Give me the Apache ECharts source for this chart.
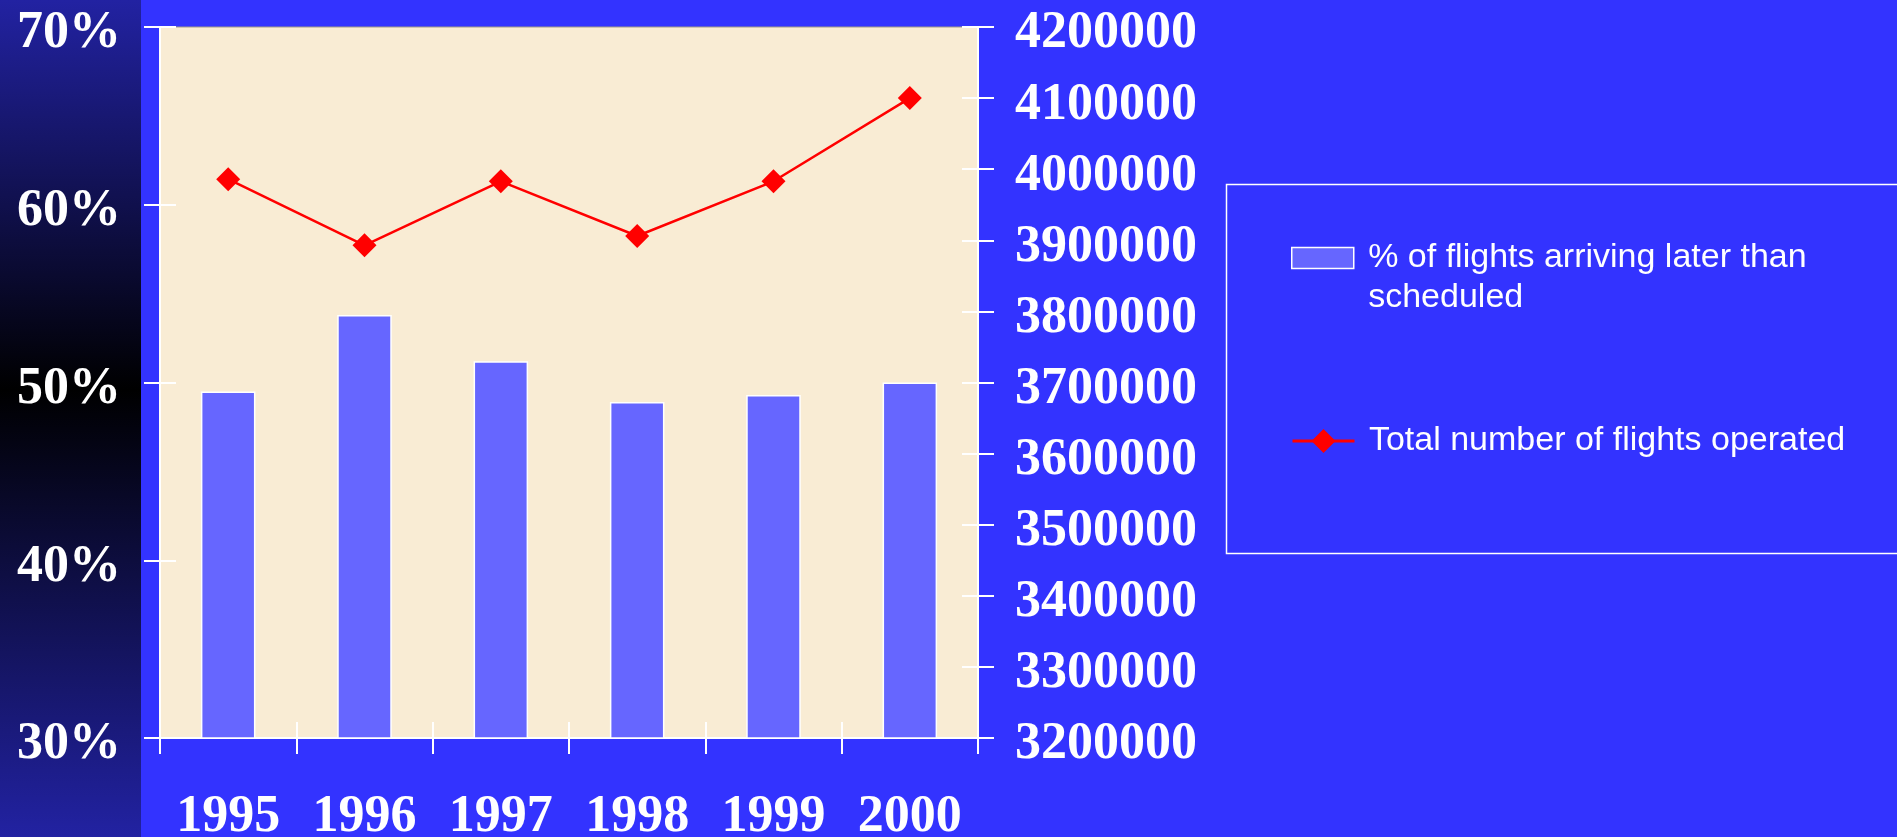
<!DOCTYPE html>
<html>
<head>
<meta charset="utf-8">
<script src="https://cdn.jsdelivr.net/npm/echarts@6/dist/echarts.min.js"></script>
<style>
html,body{margin:0;padding:0;background:#3333ff;}
#chart{width:1897px;height:837px;}
</style>
</head>
<body>
<div id="chart"></div>
<script>
const years = ['1995', '1996', '1997', '1998', '1999', '2000'];
const latePct = [49.5, 53.8, 51.2, 48.9, 49.3, 50.0];
const flightsOperated = [3986000, 3893000, 3983000, 3906000, 3983000, 4100000];
const barName = '% of flights arriving later than scheduled';
const lineName = 'Total number of flights operated';
const pctAxis = { min: 30, max: 70, interval: 10 };
const flightAxis = { min: 3200000, max: 4200000, interval: 100000 };

const chart = echarts.init(document.getElementById('chart'));
const axisFont = { color: '#ffffff', fontFamily: "'Liberation Serif', 'Times New Roman', serif", fontWeight: 'bold', fontSize: 52 };
const legendFont = { color: '#ffffff', fontFamily: "'Liberation Sans', Arial, sans-serif", fontSize: 34, lineHeight: 40 };
const white = { color: '#ffffff', width: 2 };

chart.setOption({
  backgroundColor: '#3333ff',
  animation: false,
  graphic: [{
    type: 'rect', left: 0, top: 0, z: -10,
    shape: { width: 141, height: 837 },
    style: { fill: new echarts.graphic.LinearGradient(0, 0, 0, 1, [
      { offset: 0, color: '#2222a2' },
      { offset: 0.465, color: '#000000' },
      { offset: 1, color: '#2222a2' }
    ]) }
  }, {
    type: 'rect', left: 1224, top: 182, z: 1,
    shape: { width: 700, height: 369 },
    style: { fill: 'none', stroke: '#ffffff', lineWidth: 1.5 }
  }],
  grid: {
    left: 160, right: 919, top: 27, bottom: 99,
    outerBoundsMode: 'none', containLabel: false,
    show: true, backgroundColor: '#f9ecd4', borderColor: '#a49c88', borderWidth: 1
  },
  legend: [{
    orient: 'vertical', left: 1291, top: 198, padding: 0,
    itemWidth: 62, itemHeight: 21,
    textStyle: legendFont,
    formatter: function () { return ' \n % of flights arriving later than\n scheduled'; },
    data: [{ name: barName, icon: 'rect', itemStyle: { color: '#6666ff', borderColor: '#ffffff', borderWidth: 1.5, opacity: 1 } }]
  }, {
    orient: 'vertical', left: 1291, top: 421, padding: 0,
    itemWidth: 62, itemHeight: 30,
    textStyle: legendFont,
    formatter: function (n) { return ' ' + n; },
    data: [{ name: lineName, lineStyle: { width: 3 } }]
  }],
  xAxis: [{
    type: 'category', data: years, position: 'bottom',
    axisLine: { lineStyle: white },
    axisTick: { show: true, inside: false, length: 16, lineStyle: white },
    axisLabel: Object.assign({ margin: 54, lineHeight: 52 }, axisFont)
  }, {
    type: 'category', data: years, position: 'bottom',
    axisLine: { show: false },
    axisTick: { show: true, inside: true, length: 16, lineStyle: white },
    axisLabel: { show: false }
  }],
  yAxis: [{
    type: 'value', position: 'left', min: pctAxis.min, max: pctAxis.max, interval: pctAxis.interval,
    axisLine: { show: true, lineStyle: white },
    axisTick: { show: true, inside: false, length: 16, lineStyle: white },
    axisLabel: Object.assign({ margin: 39, formatter: '{value}%', verticalAlign: 'top', lineHeight: 14 }, axisFont),
    splitLine: { show: false }
  }, {
    type: 'value', position: 'right', min: flightAxis.min, max: flightAxis.max, interval: flightAxis.interval,
    axisLine: { show: true, lineStyle: white },
    axisTick: { show: true, inside: false, length: 16, lineStyle: white },
    axisLabel: Object.assign({ margin: 37, formatter: function (v) { return String(v); }, verticalAlign: 'top', lineHeight: 14 }, axisFont),
    splitLine: { show: false }
  }, {
    type: 'value', position: 'left', min: pctAxis.min, max: pctAxis.max, interval: pctAxis.interval,
    axisLine: { show: false },
    axisTick: { show: true, inside: true, length: 16, lineStyle: white },
    axisLabel: { show: false }, splitLine: { show: false }
  }, {
    type: 'value', position: 'right', min: flightAxis.min, max: flightAxis.max, interval: flightAxis.interval,
    axisLine: { show: false },
    axisTick: { show: true, inside: true, length: 16, lineStyle: white },
    axisLabel: { show: false }, splitLine: { show: false }
  }],
  series: [{
    name: barName, type: 'bar', xAxisIndex: 0, yAxisIndex: 0,
    data: latePct, barWidth: '40%',
    itemStyle: { color: '#6666ff', borderColor: '#ffffff', borderWidth: 1.5 }
  }, {
    name: lineName, type: 'line', xAxisIndex: 0, yAxisIndex: 1,
    data: flightsOperated,
    symbol: 'diamond', symbolSize: 24,
    lineStyle: { color: '#ff0000', width: 2.5 },
    itemStyle: { color: '#ff0000' }
  }]
});
</script>
</body>
</html>
